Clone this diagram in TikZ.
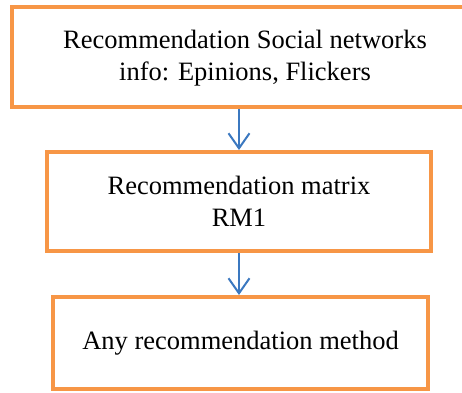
\documentclass[tikz,border=0pt]{standalone}
\usepackage{fontspec}
\setmainfont{Liberation Serif}
\usetikzlibrary{arrows.meta}
\definecolor{boxorange}{HTML}{F79646}
\definecolor{arrowblue}{HTML}{3B78C0}
\tikzset{
  flowbox/.style={draw=boxorange, line width=4pt, rectangle, inner sep=0pt, align=center,
    font=\fontsize{26.5pt}{32pt}\selectfont},
  flowtext/.style={inner sep=0pt, align=center, font=\fontsize{26.5pt}{32pt}\selectfont},
  flowarrow/.style={draw=arrowblue, line width=2pt, -{Straight Barb[length=15pt,width=21pt,line width=2pt]}}
}
\begin{document}
\begin{tikzpicture}[x=1pt,y=-1pt]
\useasboundingbox (0,0) rectangle (462,392);
\begin{scope}
\clip (0,0) rectangle (462,392);
\node[flowbox, minimum width=520pt, minimum height=100pt] (b1) at (272,57) {};
\end{scope}
\node[flowtext] (t1) at (245,58) {Recommendation Social networks\\info: Epinions, Flickers};
\node[flowbox, minimum width=384pt, minimum height=99pt] (b2) at (239,201.5)
  {Recommendation matrix\\RM1};
\node[flowbox, minimum width=375pt, minimum height=92pt] (b3) at (240.5,343)
  {Any recommendation method};
\draw[flowarrow] (b1.south -| b2.north) -- (b2.north);
\draw[flowarrow] (b2.south) -- (b2.south |- b3.north);
\end{tikzpicture}
\end{document}
